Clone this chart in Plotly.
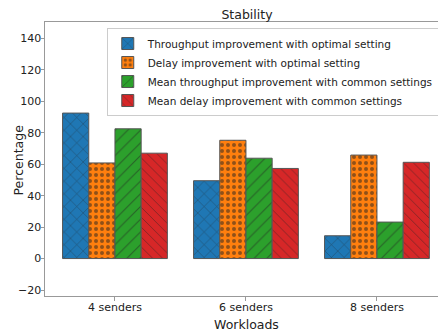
import plotly.graph_objects as go

categories = ["4 senders", "6 senders", "8 senders"]
series_names = [
    "Throughput improvement with optimal setting",
    "Delay improvement with optimal setting",
    "Mean throughput improvement with common settings",
    "Mean delay improvement with common settings",
]
throughput_opt = [92.5, 49.5, 14.5]
delay_opt = [60.8, 75.2, 65.8]
throughput_common = [82.5, 63.8, 23.2]
delay_common = [67.0, 57.3, 61.2]
y_ticks = [-20, 0, 20, 40, 60, 80, 100, 120, 140]

colors = ["#1f77b4", "#ff7f0e", "#2ca02c", "#d62728"]
patterns = ["x", ".", "/", "\\"]
pattern_sizes = [9, 6, 9, 7]
values = [throughput_opt, delay_opt, throughput_common, delay_common]

fig = go.Figure()
for name, vals, col, pat, ps in zip(series_names, values, colors, patterns, pattern_sizes):
    fig.add_trace(go.Bar(
        x=list(range(len(categories))), y=vals, name=name,
        marker=dict(color=col, line=dict(color="#555555", width=1),
                    pattern=dict(shape=pat, fgcolor="#222222", size=ps,
                                 solidity=0.35 if pat == "." else 0.12)),
    ))

# page body has an 8px margin: figure is placed at (8, 8) in the 446x331 window
W, H = 438, 323
L, T, B = 37, 14, 35
plot_w, plot_h = W - L, H - T - B

font_family = "DejaVu Sans"
fig.update_layout(
    width=W, height=H,
    margin=dict(l=L, r=0, t=T, b=B, autoexpand=False),
    barmode="group", bargap=0.2, bargroupgap=0,
    plot_bgcolor="white", paper_bgcolor="white",
    font=dict(family=font_family, size=11, color="#222222"),
    title=dict(text="Stability", x=239 / W, xanchor="center", y=1 - 6.5 / H, yanchor="middle",
               font=dict(size=12.5)),
    showlegend=True,
    legend=dict(x=0.154, y=0.978, xanchor="left", yanchor="top", bgcolor="white",
                bordercolor="#cccccc", borderwidth=1, font=dict(size=10.5),
                tracegroupgap=0, itemwidth=30),
    xaxis=dict(range=[-0.534, 2.527], tickvals=list(range(len(categories))), ticktext=categories,
               showline=True, linecolor="#999999", linewidth=1, mirror=True, automargin=False,
               ticks="outside", ticklen=3.5, tickcolor="#999999", showgrid=False, zeroline=False,
               ticklabelstandoff=-3),
    yaxis=dict(range=[-23.8, 150.4], tickvals=y_ticks, ticktext=["\u221220"] + [str(v) for v in y_ticks[1:]],
               showline=True, linecolor="#999999", linewidth=1, automargin=False,
               ticks="outside", ticklen=3.5, tickcolor="#999999", showgrid=False, zeroline=False,
               ticklabelstandoff=-3),
    annotations=[
        dict(text="Workloads", xref="paper", yref="paper", x=(238.7 - L) / plot_w,
             y=(plot_h + T - 316) / plot_h, xanchor="center", yanchor="middle",
             showarrow=False, font=dict(size=12.5)),
        dict(text="Percentage", xref="paper", yref="paper", x=(1 - L) / plot_w,
             y=(plot_h + T - 152) / plot_h, xanchor="left", yanchor="middle",
             textangle=-90, showarrow=False, font=dict(size=12.5)),
    ],
)
fig.write_html("out.html")
